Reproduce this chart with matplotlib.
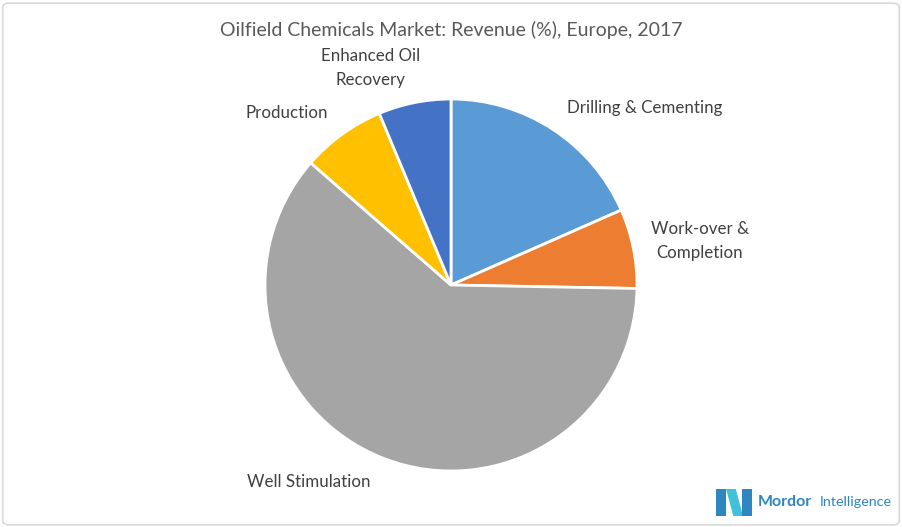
import matplotlib
matplotlib.use('Agg')
import matplotlib.pyplot as plt
from matplotlib.patches import FancyBboxPatch, Polygon

plt.rcParams['font.family'] = ['Lato', 'DejaVu Sans']

# data (share of revenue, %)
segments = ['Drilling & Cementing', 'Work-over &\nCompletion', 'Well Stimulation',
            'Production', 'Enhanced Oil\nRecovery']
shares = [18.4, 6.9, 61.1, 7.3, 6.3]
colors = ['#5B9BD5', '#ED7D31', '#A5A5A5', '#FFC000', '#4472C4']
title = 'Oilfield Chemicals Market: Revenue (%), Europe, 2017'

W, H = 902, 527
fig = plt.figure(figsize=(W / 100, H / 100), dpi=100)

# outer border
fig.patches.append(FancyBboxPatch((0.003, 0.004), 0.994, 0.99,
                                  boxstyle='round,pad=0,rounding_size=0.008',
                                  transform=fig.transFigure, fc='none',
                                  ec='#D9D9D9', lw=1.2, zorder=0))

cx, cy, r = 451, 285, 186
ax = fig.add_axes([(cx - r) / W, (H - cy - r) / H, 2 * r / W, 2 * r / H])
ax.set_zorder(2)
ax.pie(shares, colors=colors, startangle=90, counterclock=False, radius=1,
       wedgeprops={'edgecolor': 'white', 'linewidth': 2})
ax.set_xlim(-1, 1)
ax.set_ylim(-1, 1)
ax.axis('off')

# label positions (in pie radius units)
label_pos = [(1.043, 0.952), (1.339, 0.237), (-0.763, -1.059), (-0.882, 0.925), (-0.435, 1.167)]
for name, (lx, ly) in zip(segments, label_pos):
    ax.text(lx, ly, name, ha='center', va='center', fontsize=12.2, color='#404040',
            linespacing=1.6, clip_on=False)

fig.text(0.5, 1 - 30 / H, title, ha='center', va='center', fontsize=14, color='#595959')

# logo
lx0, ly0 = 716 / W, 1 - 516 / H
lw_, lh_ = 36 / W, 27 / H
fig.patches.append(Polygon([(lx0, ly0), (lx0 + lw_ * 0.28, ly0), (lx0 + lw_ * 0.28, ly0 + lh_),
                            (lx0, ly0 + lh_)], closed=True, transform=fig.transFigure,
                           fc='#2E86C1', ec='none'))
fig.patches.append(Polygon([(lx0 + lw_ * 0.28, ly0 + lh_), (lx0 + lw_ * 0.55, ly0 + lh_),
                            (lx0 + lw_ * 0.75, ly0), (lx0 + lw_ * 0.48, ly0)], closed=True,
                           transform=fig.transFigure, fc='#3FC1D9', ec='none'))
fig.patches.append(Polygon([(lx0 + lw_ * 0.72, ly0), (lx0 + lw_, ly0), (lx0 + lw_, ly0 + lh_),
                            (lx0 + lw_ * 0.72, ly0 + lh_)], closed=True,
                           transform=fig.transFigure, fc='#2E86C1', ec='none'))
fig.text(758 / W, 1 - 502 / H, 'Mordor', fontsize=11.5, fontweight='bold', color='#2E86C1',
         va='center', ha='left')
fig.text(820 / W, 1 - 502 / H, 'Intelligence', fontsize=10.3, color='#2E86C1',
         va='center', ha='left')

fig.savefig('out.png', dpi=100)
